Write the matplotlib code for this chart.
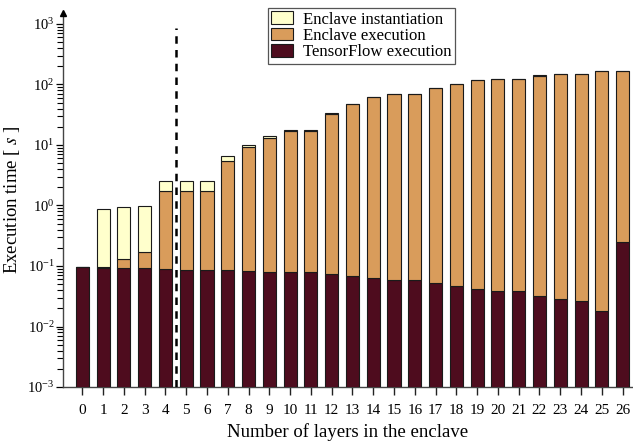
import matplotlib
matplotlib.use("Agg")
import matplotlib.pyplot as plt
import numpy as np
from matplotlib.patches import Patch

plt.rcParams['font.family'] = ['Liberation Serif', 'DejaVu Serif']
plt.rcParams['mathtext.fontset'] = 'stix'

layers = list(range(27))
tf_exec = [0.095, 0.092, 0.092, 0.092, 0.088, 0.087, 0.087, 0.086, 0.083, 0.080,
           0.0786, 0.0786, 0.0738, 0.0675, 0.0626, 0.0587, 0.058, 0.0524, 0.0473, 0.0422,
           0.0391, 0.0382, 0.0319, 0.0282, 0.0261, 0.0178, 0.247]
enclave_exec = [0.0, 0.003, 0.040, 0.078, 1.67, 1.67, 1.67, 5.4, 9.2, 12.8,
                16.9, 16.9, 32.1, 46.9, 62.0, 69.6, 69.6, 86.4, 101.8, 117.0,
                123.0, 123.0, 140.0, 149.0, 149.0, 165.0, 165.0]
enclave_inst = [0.0, 0.795, 0.80, 0.80, 0.81, 0.81, 0.81, 1.0, 0.8, 1.2,
                0.9, 0.9, 1.3, 1.2, 1.0, 1.0, 1.0, 1.0, 1.2, 1.0,
                1.0, 1.0, 1.0, 1.5, 1.5, 1.0, 1.5]

c_tf = '#4e0c1e'
c_exec = '#d99c5b'
c_inst = '#ffffcc'

fig = plt.figure(figsize=(6.33, 4.42), dpi=100)
ax = fig.add_axes([63/633, 1-387/442, (633-63)/633, (387-13)/442])

x = np.array(layers)
tf = np.array(tf_exec)
ex = np.array(enclave_exec)
ins = np.array(enclave_inst)
w = 0.63
ec = '#1a1a1a'
lw = 0.8
ax.bar(x, tf, w, color=c_tf, edgecolor=ec, linewidth=lw, zorder=3)
ax.bar(x, ex, w, bottom=tf, color=c_exec, edgecolor=ec, linewidth=lw, zorder=3)
ax.bar(x, ins, w, bottom=tf+ex, color=c_inst, edgecolor=ec, linewidth=lw, zorder=3)

ax.set_yscale('log')
ax.set_ylim(1e-3, 10**(3 + 11/60.5))
ax.set_xlim(-0.93, 26.5)

ax.vlines(4.5, 1e-3, 860, colors='black', linestyles=(0, (3, 2.5)), linewidth=1.8, zorder=4)

for s in ['top', 'right']:
    ax.spines[s].set_visible(False)
for s in ['left', 'bottom']:
    ax.spines[s].set_color('#444444')
    ax.spines[s].set_linewidth(1.0)
ax.plot(0, 1, marker='^', markersize=5, color='black', transform=ax.transAxes, clip_on=False, zorder=5)

ax.set_xticks(x)
ax.set_xticklabels([str(v) for v in layers], fontsize=11)
ax.set_yticks([1e-3, 1e-2, 1e-1, 1, 10, 100, 1000])
ax.tick_params(axis='x', direction='out', length=6, width=1, pad=6, color='#222222')
ax.tick_params(axis='y', which='major', direction='out', length=5, width=0.9, pad=1, labelsize=10.5)
ax.tick_params(axis='y', which='minor', direction='out', length=4, width=0.8)

ax.set_xlabel('Number of layers in the enclave', fontsize=13.5, labelpad=5)
ax.set_ylabel('Execution time [ $s$ ]', fontsize=13.5, labelpad=4)

handles = [Patch(facecolor=c_inst, edgecolor=ec, linewidth=lw, label='Enclave instantiation'),
           Patch(facecolor=c_exec, edgecolor=ec, linewidth=lw, label='Enclave execution'),
           Patch(facecolor=c_tf, edgecolor=ec, linewidth=lw, label='TensorFlow execution')]
leg = fig.legend(handles=handles, loc='upper left', bbox_to_anchor=(268/633, 1-8/442),
                 bbox_transform=fig.transFigure, fontsize=12.1, frameon=True, fancybox=False,
                 edgecolor='#555555', framealpha=1, borderpad=0.2, labelspacing=0.0,
                 handlelength=1.3, handleheight=0.8, handletextpad=0.6, borderaxespad=0)
leg.get_frame().set_linewidth(0.9)

fig.savefig('out.png', dpi=100)
